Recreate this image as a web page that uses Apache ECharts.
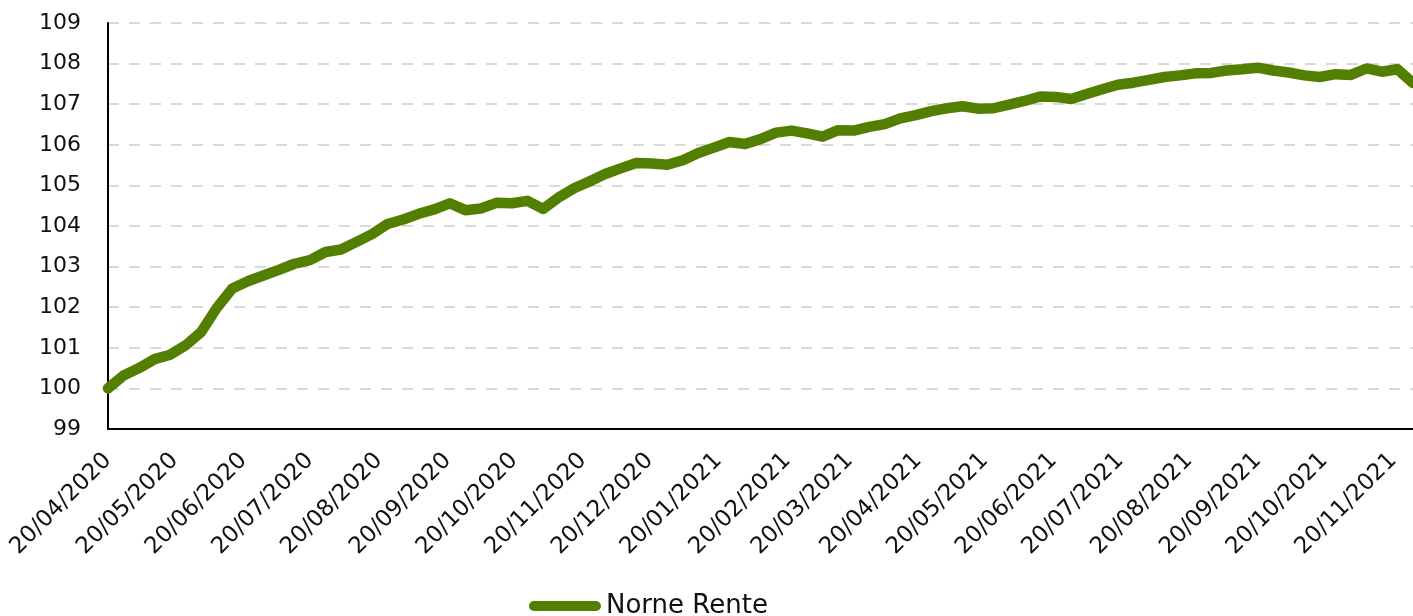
<!DOCTYPE html>
<html>
<head>
<meta charset="utf-8">
<script src="https://cdn.jsdelivr.net/npm/echarts@6/dist/echarts.min.js"></script>
<style>
  html, body { margin: 0; padding: 0; background: #fff; }
  .chart { width: 1413px; height: 616px; }
</style>
</head>
<body>
<div class="chart"></div>
<script>
// weekly closes, first point on startDate
const startDate = '2020-04-20';
const stepDays = 7;
const seriesName = 'Norne Rente';
const values = [
  100.00, 100.32, 100.50, 100.72, 100.83, 101.06, 101.39, 101.98, 102.46, 102.64,
  102.78, 102.92, 103.07, 103.16, 103.36, 103.42, 103.61, 103.80, 104.05, 104.16,
  104.30, 104.41, 104.56, 104.39, 104.43, 104.57, 104.56, 104.62, 104.42, 104.70,
  104.93, 105.10, 105.28, 105.42, 105.55, 105.54, 105.51, 105.62, 105.80, 105.93,
  106.07, 106.02, 106.14, 106.30, 106.35, 106.28, 106.20, 106.36, 106.35, 106.44,
  106.51, 106.65, 106.73, 106.83, 106.90, 106.95, 106.89, 106.90, 106.99, 107.08,
  107.19, 107.18, 107.13, 107.25, 107.37, 107.48, 107.53, 107.60, 107.67, 107.71,
  107.76, 107.77, 107.83, 107.86, 107.90, 107.83, 107.78, 107.71, 107.67, 107.74,
  107.72, 107.88, 107.80, 107.86, 107.52
];
const tickDates = [
  '2020-04-20', '2020-05-20', '2020-06-20', '2020-07-20', '2020-08-20',
  '2020-09-20', '2020-10-20', '2020-11-20', '2020-12-20', '2021-01-20',
  '2021-02-20', '2021-03-20', '2021-04-20', '2021-05-20', '2021-06-20',
  '2021-07-20', '2021-08-20', '2021-09-20', '2021-10-20', '2021-11-20'
];
const axisEnd = '2021-11-29';

function toTime(s) {
  return new Date(s + 'T00:00:00').getTime();
}
function pad(n) {
  return n < 10 ? '0' + n : '' + n;
}

let chartDom = document.getElementsByClassName('chart')[0];
let myChart = echarts.init(chartDom);

let t0 = toTime(startDate);
let data = values.map(function (v, i) {
  return [t0 + i * stepDays * 86400000, v];
});

var option = {
  animation: false,
  grid: {
    left: 108,
    right: 0,
    top: 23,
    bottom: 187,
    outerBoundsMode: 'none'
  },
  legend: {
    data: [seriesName],
    left: 524,
    top: 588,
    itemWidth: 72,
    itemHeight: 10,
    icon: 'path://M5,0 H67 A5,5 0 0 1 67,10 H5 A5,5 0 0 1 5,0 Z',
    textStyle: {
      fontFamily: 'DejaVu Sans',
      fontSize: 26,
      color: '#111'
    }
  },
  xAxis: {
    type: 'value',
    min: toTime(startDate),
    max: toTime(axisEnd),
    axisLine: { lineStyle: { color: '#000', width: 2 } },
    axisTick: { show: false },
    splitLine: { show: false },
    axisLabel: {
      customValues: tickDates.map(toTime),
      rotate: 45,
      margin: 28,
      fontFamily: 'DejaVu Sans',
      fontSize: 23,
      color: '#111',
      formatter: function (val) {
        let d = new Date(val);
        return pad(d.getDate()) + '/' + pad(d.getMonth() + 1) + '/' + d.getFullYear();
      }
    }
  },
  yAxis: {
    type: 'value',
    min: 99,
    max: 109,
    interval: 1,
    axisLine: { show: true, lineStyle: { color: '#000', width: 2 } },
    axisTick: { show: false },
    axisLabel: {
      margin: 27,
      fontFamily: 'DejaVu Sans',
      fontSize: 22,
      color: '#111'
    },
    splitLine: {
      lineStyle: { color: '#d9d9d9', width: 2, type: [11, 10] }
    }
  },
  series: [
    {
      name: seriesName,
      type: 'line',
      data: data,
      showSymbol: false,
      symbol: 'none',
      color: '#527f00',
      lineStyle: { width: 10.5, cap: 'round', join: 'round' }
    }
  ]
};
myChart.setOption(option);
</script>
</body>
</html>
